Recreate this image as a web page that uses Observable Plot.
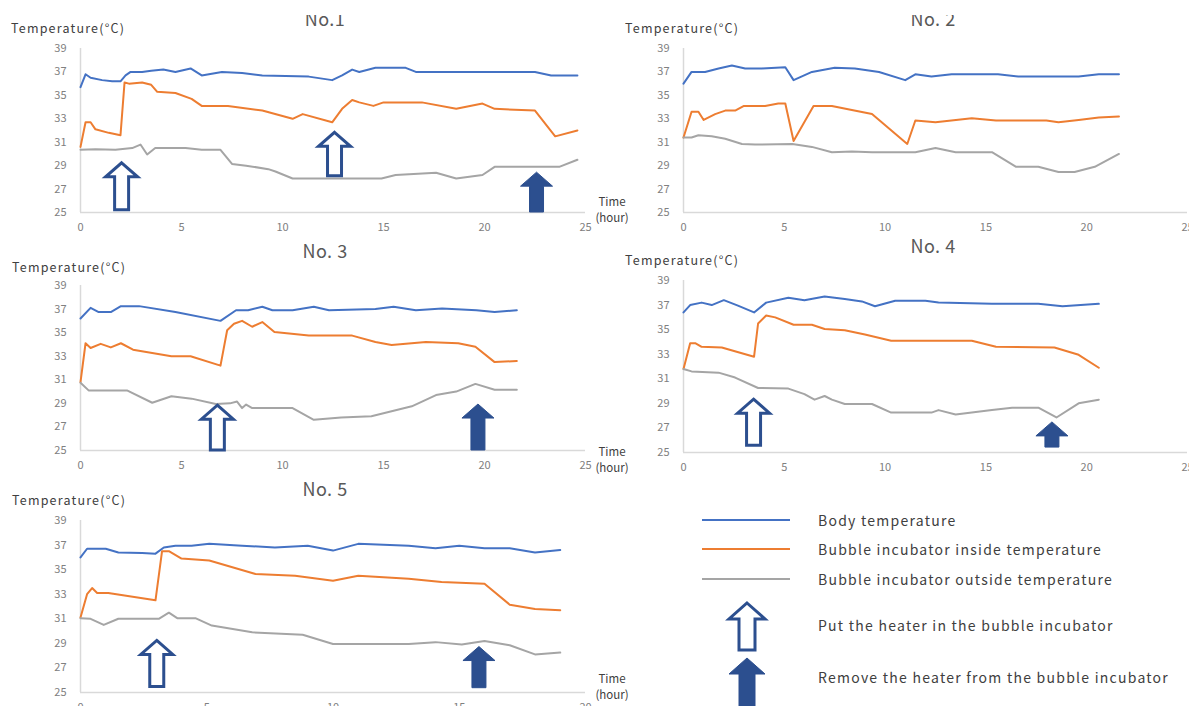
<!DOCTYPE html>
<html><head><meta charset="utf-8">
<script src="https://cdn.jsdelivr.net/npm/d3@7"></script>
<script src="https://cdn.jsdelivr.net/npm/@observablehq/plot@0.6"></script>
<style>
html,body{margin:0;padding:0;background:#fff;overflow:hidden;}
#root{position:relative;width:1189px;height:706px;overflow:hidden;font-family:"Noto Sans CJK JP","Noto Sans",sans-serif;}
.abs{position:absolute;white-space:nowrap;}
.ylab{font-size:12.5px;line-height:14px;color:#404040;letter-spacing:1.2px;}
.title{font-size:18px;line-height:18px;color:#595959;width:120px;text-align:center;letter-spacing:0.5px;}
.time{font-size:11.5px;line-height:12px;color:#404040;width:50px;text-align:center;}
.leg{font-size:14px;line-height:16px;color:#404040;letter-spacing:1.25px;}
</style></head><body><div id="root"></div>
<script>
const seriesNames = ["Body temperature","Bubble incubator inside temperature","Bubble incubator outside temperature"];
const seriesColors = ["#4472c4","#ed7d31","#a5a5a5"];
const arrowLabels = ["Put the heater in the bubble incubator","Remove the heater from the bubble incubator"];
const yTicks = [25,27,29,31,33,35,37,39];
const xTicks25 = [0,5,10,15,20,25];
const xTicks20 = [0,5,10,15,20];
const panelTitles = ["No.1","No. 2","No. 3","No. 4","No. 5"];

// ---- No.1 ----
const p1Body = [[0,35.7],[0.25,36.8],[0.5,36.5],[1.07,36.3],[1.57,36.2],[1.98,36.2],[2.23,36.7],[2.48,37.0],[3.05,37.0],[3.5,37.1],[4.1,37.2],[4.7,37.0],[5.45,37.3],[6.0,36.7],[7.0,37.0],[8.0,36.9],[9.0,36.7],[11.3,36.6],[12.46,36.3],[12.95,36.7],[13.45,37.2],[13.8,37.0],[14.6,37.35],[16.1,37.35],[16.6,37.0],[22.5,37.0],[23.3,36.7],[24.6,36.7]];
const p1Inside = [[0,30.6],[0.25,32.7],[0.5,32.7],[0.74,32.1],[1.4,31.8],[1.98,31.6],[2.18,36.1],[2.4,36.0],[3.05,36.1],[3.5,35.9],[3.8,35.3],[4.7,35.2],[5.5,34.7],[6.0,34.1],[7.3,34.1],[9.0,33.7],[10.5,33.0],[11.0,33.4],[12.46,32.7],[12.95,33.85],[13.45,34.6],[13.8,34.4],[14.5,34.1],[15.0,34.4],[16.9,34.4],[18.6,33.85],[19.9,34.3],[20.5,33.85],[22.5,33.7],[23.5,31.5],[24.6,32.0]];
const p1Outside = [[0,30.35],[0.74,30.4],[1.73,30.35],[2.56,30.5],[2.97,30.8],[3.3,29.95],[3.7,30.5],[5.2,30.5],[6.0,30.35],[6.93,30.35],[7.5,29.15],[8.2,29.0],[9.3,28.7],[9.65,28.5],[10.5,27.9],[14.9,27.9],[15.6,28.2],[17.6,28.4],[18.6,27.9],[19.9,28.2],[20.5,28.9],[23.7,28.9],[24.6,29.5]];
const p1Arrows = [{hour:2.06,tip:29.2,base:25.2,kind:"put"},{hour:12.6,tip:31.8,base:28.1,kind:"put"},{hour:22.6,tip:28.4,base:25.0,kind:"remove"}];

// ---- No.2 ----
const p2Body = [[0,36.0],[0.4,37.0],[1.07,37.0],[1.74,37.3],[2.4,37.55],[3.06,37.3],[3.9,37.3],[5.05,37.4],[5.46,36.3],[6.37,37.0],[7.5,37.35],[8.5,37.3],[9.7,37.0],[11.0,36.3],[11.5,36.8],[12.3,36.6],[13.3,36.8],[15.6,36.8],[16.6,36.6],[19.6,36.6],[20.6,36.8],[21.6,36.8]];
const p2Inside = [[0,31.4],[0.4,33.6],[0.74,33.6],[1.0,32.9],[1.57,33.4],[2.07,33.7],[2.56,33.7],[3.0,34.1],[4.05,34.1],[4.7,34.3],[5.05,34.3],[5.46,31.1],[6.45,34.1],[7.36,34.1],[8.35,33.75],[9.35,33.4],[11.1,30.85],[11.5,32.85],[12.5,32.7],[14.3,33.05],[15.5,32.85],[18.0,32.85],[18.6,32.7],[19.6,32.9],[20.6,33.1],[21.6,33.2]];
const p2Outside = [[0,31.4],[0.4,31.4],[0.74,31.6],[1.4,31.5],[2.07,31.3],[2.9,30.85],[3.55,30.8],[5.4,30.85],[6.37,30.6],[7.36,30.15],[8.35,30.2],[9.35,30.15],[11.5,30.15],[12.5,30.5],[13.5,30.15],[15.3,30.15],[16.5,28.9],[17.6,28.9],[18.6,28.45],[19.4,28.45],[20.4,28.9],[21.6,30.0]];
const p2Arrows = [];

// ---- No.3 ----
const p3Body = [[0,36.2],[0.5,37.1],[0.9,36.75],[1.5,36.75],[2.0,37.25],[2.9,37.25],[4.7,36.75],[6.93,36.0],[7.7,36.9],[8.3,36.9],[9.0,37.2],[9.5,36.9],[10.5,36.9],[11.55,37.2],[12.3,36.9],[14.6,37.0],[15.5,37.2],[16.6,36.9],[17.9,37.05],[19.6,36.9],[20.5,36.75],[21.6,36.9]];
const p3Inside = [[0,30.8],[0.25,34.1],[0.5,33.7],[1.0,34.05],[1.5,33.75],[2.0,34.1],[2.6,33.55],[4.5,33.0],[5.45,33.0],[6.93,32.2],[7.26,35.2],[7.6,35.75],[8.0,36.0],[8.5,35.5],[9.0,35.9],[9.6,35.05],[11.3,34.75],[13.45,34.75],[14.6,34.2],[15.4,33.95],[17.1,34.2],[18.7,34.1],[19.55,33.8],[20.5,32.5],[21.6,32.6]];
const p3Outside = [[0,30.75],[0.4,30.1],[2.3,30.1],[3.55,29.05],[4.5,29.6],[5.5,29.4],[6.7,28.95],[7.4,29.0],[7.75,29.15],[8.0,28.6],[8.2,28.9],[8.5,28.6],[10.5,28.6],[11.55,27.6],[12.9,27.8],[14.4,27.9],[16.4,28.75],[17.6,29.7],[18.6,30.0],[19.55,30.65],[20.5,30.15],[21.6,30.15]];
const p3Arrows = [{hour:6.8,tip:28.8,base:25.0,kind:"put"},{hour:19.7,tip:28.9,base:25.0,kind:"remove"}];

// ---- No.4 ----
const p4Body = [[0,36.4],[0.33,37.0],[0.9,37.2],[1.4,37.0],[2.0,37.4],[2.7,36.95],[3.5,36.4],[4.1,37.2],[5.2,37.6],[6.0,37.4],[7.0,37.7],[8.0,37.5],[8.85,37.3],[9.5,36.9],[10.5,37.35],[12.0,37.35],[12.65,37.2],[15.3,37.1],[17.6,37.1],[18.8,36.9],[20.6,37.1]];
const p4Inside = [[0,31.8],[0.33,33.9],[0.58,33.9],[0.9,33.6],[1.9,33.55],[3.5,32.8],[3.7,35.5],[4.1,36.15],[4.55,36.0],[5.46,35.4],[6.37,35.4],[7.0,35.05],[8.0,34.95],[9.0,34.6],[10.3,34.1],[14.3,34.1],[15.5,33.6],[18.4,33.55],[19.6,32.95],[20.6,31.9]];
const p4Outside = [[0,31.8],[0.4,31.6],[1.74,31.5],[2.56,31.1],[3.7,30.25],[5.2,30.2],[6.0,29.75],[6.5,29.3],[7.0,29.6],[7.36,29.3],[8.0,28.95],[9.35,28.95],[10.3,28.25],[12.3,28.25],[12.65,28.45],[13.5,28.1],[14.3,28.25],[15.3,28.45],[16.3,28.65],[17.6,28.65],[18.5,27.85],[19.6,29.0],[20.6,29.3]];
const p4Arrows = [{hour:3.5,tip:29.3,base:25.55,kind:"put"},{hour:18.3,tip:27.45,base:25.4,kind:"remove"}];

// ---- No.5 ----
const p5Body = [[0,36.0],[0.26,36.7],[1.0,36.7],[1.5,36.4],[2.44,36.35],[2.97,36.3],[3.3,36.8],[3.76,36.95],[4.4,36.95],[5.1,37.1],[6.4,36.95],[7.7,36.8],[9.0,36.95],[10.0,36.55],[11.0,37.1],[13.0,36.95],[14.06,36.75],[15.0,36.95],[16.0,36.75],[17.0,36.75],[18.0,36.4],[19.0,36.6]];
const p5Inside = [[0,31.1],[0.26,33.0],[0.46,33.5],[0.66,33.1],[1.1,33.1],[2.97,32.5],[3.23,36.5],[3.5,36.5],[4.0,35.9],[5.1,35.75],[6.93,34.65],[8.5,34.5],[10.0,34.1],[11.0,34.5],[13.0,34.25],[14.3,34.0],[16.0,33.85],[17.0,32.15],[18.0,31.8],[19.0,31.7]];
const p5Outside = [[0,31.05],[0.4,31.0],[0.92,30.5],[1.5,31.0],[3.1,31.0],[3.5,31.5],[3.83,31.05],[4.55,31.05],[5.2,30.45],[6.8,29.9],[8.8,29.7],[10.0,28.95],[13.0,28.95],[14.06,29.1],[15.1,28.9],[16.0,29.2],[17.0,28.85],[18.0,28.1],[19.0,28.25]];
const p5Arrows = [{hour:3.04,tip:29.2,base:25.45,kind:"put"},{hour:15.8,tip:28.7,base:25.35,kind:"remove"}];

const ARROW_BLUE = "#2c4f8f";
const root = document.getElementById("root");

function arrowPath(cx, yTip, yBase, hw, hh, sw) {
  return `M${cx},${yTip}L${cx+hw},${yTip+hh}L${cx+sw},${yTip+hh}L${cx+sw},${yBase}L${cx-sw},${yBase}L${cx-sw},${yTip+hh}L${cx-hw},${yTip+hh}Z`;
}

const layouts = [
  {left:0, top:0, width:620, height:240, mL:80, mR:35, mT:48, mB:28, xmax:25, xticks:xTicks25},
  {left:600, top:0, width:589, height:240, mL:83, mR:2, mT:48, mB:28, xmax:25, xticks:xTicks25},
  {left:0, top:240, width:620, height:230, mL:80, mR:35, mT:45, mB:20, xmax:25, xticks:xTicks25},
  {left:600, top:240, width:589, height:230, mL:83, mR:2, mT:40, mB:18, xmax:25, xticks:xTicks25},
  {left:0, top:470, width:620, height:236, mL:80, mR:35, mT:50, mB:14, xmax:20, xticks:xTicks20}
];
const panelSeries = [
  [p1Body,p1Inside,p1Outside],[p2Body,p2Inside,p2Outside],[p3Body,p3Inside,p3Outside],
  [p4Body,p4Inside,p4Outside],[p5Body,p5Inside,p5Outside]
];
const panelArrows = [p1Arrows,p2Arrows,p3Arrows,p4Arrows,p5Arrows];

layouts.forEach((L, i) => {
  const rows = panelSeries[i].flatMap((s, k) => s.map(([hour, temp]) => ({hour, temp, series: seriesNames[k]})));
  const plot = Plot.plot({
    width: L.width, height: L.height,
    marginLeft: L.mL, marginRight: L.mR, marginTop: L.mT, marginBottom: L.mB,
    style: {fontSize: "11px", fontFamily: '"Noto Sans CJK JP","Noto Sans",sans-serif', color: "#808080", background: "transparent", overflow: "visible"},
    x: {domain: [0, L.xmax], ticks: L.xticks, tickSize: 0, tickPadding: 11, label: null},
    y: {domain: [25, 39], ticks: yTicks, tickSize: 0, tickPadding: 14, label: null},
    color: {domain: seriesNames, range: seriesColors},
    marks: [
      Plot.ruleY([25], {stroke: "#d9d9d9", strokeWidth: 1.5}),
      Plot.ruleX([0], {y1: 25, y2: 39, stroke: "#d9d9d9", strokeWidth: 1.5}),
      Plot.line(rows, {x: "hour", y: "temp", z: "series", stroke: "series", strokeWidth: 2, curve: "linear"})
    ]
  });
  const wrap = document.createElement("div");
  wrap.className = "abs";
  wrap.style.left = L.left + "px"; wrap.style.top = L.top + "px";
  wrap.appendChild(plot);
  root.appendChild(wrap);
  // heater arrows placed through the plot's own scales
  const xs = plot.scale("x"), ys = plot.scale("y");
  const svg = d3.select(plot);
  panelArrows[i].forEach(a => {
    const cx = xs.apply(a.hour), yt = ys.apply(a.tip), yb = ys.apply(a.base);
    svg.append("path")
      .attr("d", arrowPath(cx, yt, yb, 16, 14, 7))
      .attr("fill", a.kind === "put" ? "#fff" : ARROW_BLUE)
      .attr("stroke", ARROW_BLUE)
      .attr("stroke-width", a.kind === "put" ? 3 : 1)
      .attr("stroke-linejoin", "miter");
  });
});

// text labels
function addText(cls, text, left, top, extra) {
  const d = document.createElement("div");
  d.className = "abs " + cls;
  d.textContent = text;
  d.style.left = left + "px"; d.style.top = top + "px";
  if (extra) Object.assign(d.style, extra);
  root.appendChild(d);
  return d;
}
const yLabelPos = [[11,21],[625,21],[12,260],[625,253],[12,493]];
yLabelPos.forEach(([l,t]) => addText("ylab", "Temperature(°C)", l, t));

// titles (first row is cropped at the top in the reference)
const titlePos = [[325,25,true],[933,25,true],[325,257,false],[933,252,false],[325,495,false]];
titlePos.forEach(([cx, base, clipped], i) => {
  if (clipped) {
    const box = document.createElement("div");
    box.className = "abs";
    Object.assign(box.style, {left: (cx-60)+"px", top: "15px", width: "120px", height: "12px", overflow: "hidden"});
    const t = document.createElement("div");
    t.className = "abs title";
    t.textContent = panelTitles[i];
    Object.assign(t.style, {left: "0px", top: (base - 15 - 16) + "px"});
    box.appendChild(t);
    root.appendChild(box);
  } else {
    addText("title", panelTitles[i], cx - 60, base - 16);
  }
});

const timePos = [[612,202],[612,452],[612,679]];
timePos.forEach(([cx, cy]) => {
  addText("time", "Time", cx - 25, cy - 7);
  addText("time", "(hour)", cx - 25, cy + 9);
});

// legend
const legend = d3.select(root).append("svg")
  .attr("class", "abs").attr("width", 509).attr("height", 206)
  .style("left", "680px").style("top", "500px");
[20, 49, 79].forEach((y, k) => {
  legend.append("line").attr("x1", 22).attr("x2", 110).attr("y1", y).attr("y2", y)
    .attr("stroke", seriesColors[k]).attr("stroke-width", 2.2);
});
legend.append("path").attr("d", arrowPath(67, 103, 150, 18, 16, 8))
  .attr("fill", "#fff").attr("stroke", ARROW_BLUE).attr("stroke-width", 3);
legend.append("path").attr("d", arrowPath(67, 158, 212, 18, 16, 8))
  .attr("fill", ARROW_BLUE).attr("stroke", ARROW_BLUE).attr("stroke-width", 1);
const legTexts = seriesNames.concat(arrowLabels);
[520, 549, 579, 625, 677].forEach((cy, k) => addText("leg", legTexts[k], 818, cy - 8));
</script></body></html>
